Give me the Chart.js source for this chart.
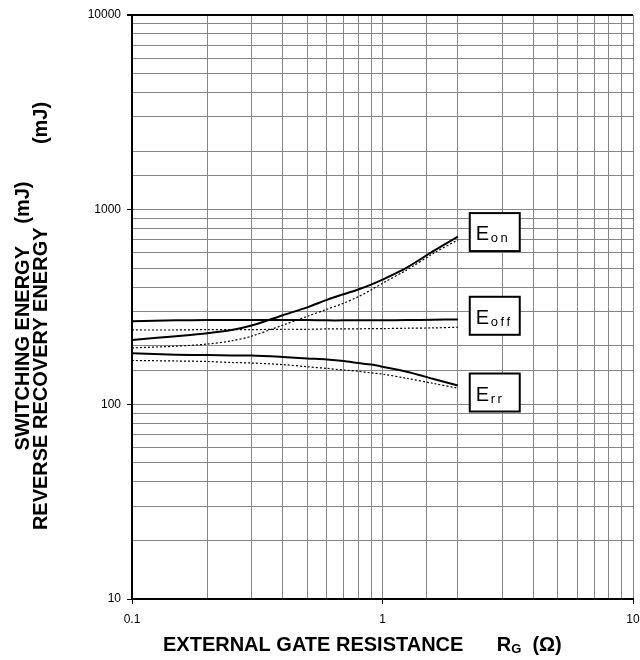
<!DOCTYPE html>
<html>
<head>
<meta charset="utf-8">
<script src="https://cdn.jsdelivr.net/npm/chart.js@4.4.1/dist/chart.umd.min.js"></script>
<style>
  html, body { margin: 0; padding: 0; background: #fff; }
</style>
</head>
<body>
<canvas id="myChart" width="640" height="660"></canvas>
<script>
// gate resistance (ohm) sampled along the curves
var resistance = [0.1, 0.15, 0.2, 0.25, 0.3, 0.4, 0.5, 0.6, 0.7, 0.8, 0.9, 1.0, 1.25, 1.6, 2.0];

// switching energies (mJ), solid = one condition, dotted = other
var eonSolid  = [214, 224, 232, 241, 254, 287, 315, 344, 368, 389, 412, 437, 504, 614, 727];
var eonDot    = [195, 199, 204, 212, 224, 255, 283, 308, 331, 357, 387, 419, 490, 597, 700];
var eoffSolid = [267, 270, 271, 271, 271, 271, 271, 270, 270, 270, 270, 270, 271, 272, 273];
var eoffDot   = [241, 241, 242, 242, 242, 243, 243, 244, 244, 244, 245, 245, 246, 247, 249];
var errSolid  = [183, 180, 179, 178, 178, 175, 172, 170, 167, 163, 160, 156, 147, 135, 125];
var errDot    = [168, 167, 166, 164, 163, 160, 156, 153, 150, 148, 145, 143, 136, 128, 121];

// curve labels (main text, subscript) and where they sit (data space)
var labelMain = ["E", "E", "E"];
var labelSub = ["on", "off", "rr"];
var labelX = 2.23;
var labelY = [767, 285, 115];

var xTickLabels = [0.1, 1, 10];
var yTickLabels = [10, 100, 1000, 10000];

var FONT = "'Liberation Sans', Arial, sans-serif";

function pts(ys) {
  var out = [];
  for (var i = 0; i < resistance.length; i++) {
    out.push({ x: resistance[i], y: ys[i] });
  }
  return out;
}

function isDecade(v) {
  var l = Math.log10(v);
  return Math.abs(l - Math.round(l)) < 1e-9;
}

function solid(ys) {
  return {
    data: pts(ys),
    borderColor: "#000",
    borderWidth: 2,
    pointRadius: 0,
    tension: 0.3,
    fill: false
  };
}
function dotted(ys) {
  return {
    data: pts(ys),
    borderColor: "#000",
    borderWidth: 1.2,
    borderDash: [2, 2],
    pointRadius: 0,
    tension: 0.3,
    fill: false
  };
}

// draws the axis titles and the labelled boxes
var extras = {
  id: "extras",
  afterDatasetsDraw: function (chart) {
    var ctx = chart.ctx;
    var xs = chart.scales.x, ys = chart.scales.y;
    ctx.save();

    // boxes next to the curve ends
    for (var i = 0; i < labelMain.length; i++) {
      var bx = xs.getPixelForValue(labelX);
      var by = ys.getPixelForValue(labelY[i]);
      var w = 50, h = 38;
      ctx.fillStyle = "#fff";
      ctx.fillRect(bx, by - h / 2, w, h);
      ctx.lineWidth = 2;
      ctx.strokeStyle = "#000";
      ctx.strokeRect(bx, by - h / 2, w, h);
      ctx.fillStyle = "#000";
      ctx.textBaseline = "alphabetic";
      ctx.textAlign = "left";
      ctx.font = "20px " + FONT;
      ctx.fillText(labelMain[i], bx + 6, by + 8);
      ctx.font = "13px " + FONT;
      var cx = bx + 21;
      for (var k = 0; k < labelSub[i].length; k++) {
        ctx.fillText(labelSub[i][k], cx, by + 10);
        cx += ctx.measureText(labelSub[i][k]).width + 2.5;
      }
    }
    ctx.restore();
  },
  afterDraw: function (chart) {
    var ctx = chart.ctx;
    var area = chart.chartArea;
    ctx.save();
    ctx.fillStyle = "#000";

    // x title with subscript G
    var t1 = "EXTERNAL GATE RESISTANCE      R";
    var t2 = "G";
    var t3 = "  (\u03A9)";
    var x0 = 163;
    ctx.textAlign = "left";
    ctx.textBaseline = "alphabetic";
    ctx.font = "bold 20px " + FONT;
    var w1 = ctx.measureText(t1).width;
    ctx.fillText(t1, x0, 651);
    ctx.font = "bold 13px " + FONT;
    var w2 = ctx.measureText(t2).width;
    ctx.fillText(t2, x0 + w1, 653);
    ctx.font = "bold 20px " + FONT;
    ctx.fillText(t3, x0 + w1 + w2, 651);

    // y title, two lines rotated
    ctx.translate(0, 316);
    ctx.rotate(-Math.PI / 2);
    ctx.textAlign = "center";
    ctx.textBaseline = "middle";
    ctx.font = "bold 20px " + FONT;
    ctx.fillText("SWITCHING ENERGY    (mJ)", 0, 23);
    ctx.fillText("REVERSE RECOVERY ENERGY               (mJ)", 0, 41);
    ctx.restore();
  }
};

new Chart("myChart", {
  type: "line",
  data: {
    datasets: [
      solid(eonSolid), dotted(eonDot),
      solid(eoffSolid), dotted(eoffDot),
      solid(errSolid), dotted(errDot)
    ]
  },
  options: {
    responsive: false,
    animation: false,
    layout: { padding: { top: 15, right: 0, left: 0, bottom: 0 } },
    plugins: {
      legend: { display: false },
      tooltip: { enabled: false }
    },
    scales: {
      x: {
        type: "logarithmic",
        min: 0.1,
        max: 10,
        afterFit: function (s) {
          s.height = 61;
          s.paddingRight = 7;
          s.paddingLeft = 0;
        },
        border: { color: "#000", width: 2 },
        grid: {
          color: "#858585",
          lineWidth: 1,
          tickLength: 5,
          tickColor: function (c) {
            return c.tick && isDecade(c.tick.value) ? "#000" : "rgba(0,0,0,0)";
          }
        },
        ticks: {
          autoSkip: false,
          maxRotation: 0,
          padding: 8,
          color: "#000",
          font: { family: FONT, size: 12 },
          callback: function (v) {
            return xTickLabels.indexOf(Number(v)) >= 0 ? String(Number(v)) : "";
          }
        }
      },
      y: {
        type: "logarithmic",
        min: 10,
        max: 10000,
        afterFit: function (s) { s.width = 132; },
        border: { color: "#000", width: 2 },
        grid: {
          color: function (c) {
            return c.tick && c.tick.value === 10000 ? "#000" : "#858585";
          },
          lineWidth: function (c) {
            return c.tick && c.tick.value === 10000 ? 2 : 1;
          },
          tickLength: 5,
          tickColor: function (c) {
            return c.tick && isDecade(c.tick.value) ? "#000" : "rgba(0,0,0,0)";
          }
        },
        ticks: {
          autoSkip: false,
          padding: 6,
          color: "#000",
          font: { family: FONT, size: 12 },
          callback: function (v) {
            return yTickLabels.indexOf(Number(v)) >= 0 ? String(Number(v)) : "";
          }
        }
      }
    }
  },
  plugins: [extras]
});
</script>
</body>
</html>
